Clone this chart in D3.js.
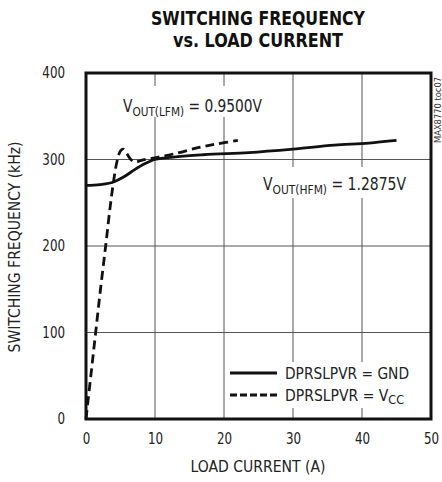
<!DOCTYPE html>
<html><head><meta charset="utf-8">
<script src="https://cdn.jsdelivr.net/npm/d3@7"></script>
<style>
body{margin:0;background:#fff;}
text{font-family:"Liberation Sans Narrow","DejaVu Sans Condensed","Roboto Condensed",Arial,sans-serif;}
</style></head>
<body><svg id="c" width="442" height="482"></svg>
<script>
const xTicks = [0,10,20,30,40,50];
const yTicks = [0,100,200,300,400];
const gndSeries = [[0,270],[2,271],[4,274],[5.5,280],[7,288],[8.5,295],[10,300],[13,303],[17,305.5],[23.6,308],[30,312],[36,316.5],[41,319],[45,322]];
const vccSeries = [[0,0],[0.7,50],[1.4,100],[2.1,150],[2.85,200],[3.5,245],[4.0,275],[4.5,298],[5.0,310],[5.4,312],[5.9,307],[6.5,300],[7.2,297],[8,299],[10,302],[13,307],[16.4,314],[19,318],[22,322]];

const svg = d3.select("#c");
const L=86, R=431, T=73, B=419;
const x = d3.scaleLinear().domain([0,50]).range([L,R]);
const y = d3.scaleLinear().domain([0,400]).range([B,T]);
const FF = '"Liberation Sans Narrow","DejaVu Sans Condensed",Arial,sans-serif';

// grid
svg.append("g").selectAll("line").data(xTicks.slice(1,-1)).join("line")
  .attr("x1",d=>x(d)).attr("x2",d=>x(d)).attr("y1",T).attr("y2",B)
  .attr("stroke","#555").attr("stroke-width",1);
svg.append("g").selectAll("line").data(yTicks.slice(1,-1)).join("line")
  .attr("y1",d=>y(d)).attr("y2",d=>y(d)).attr("x1",L).attr("x2",R)
  .attr("stroke","#555").attr("stroke-width",1);

// axes labels via d3 axes
const xAxis = svg.append("g").attr("transform",`translate(0,${B})`)
  .call(d3.axisBottom(x).tickValues(xTicks).tickSize(0).tickPadding(14));
xAxis.select(".domain").remove();
xAxis.selectAll("text").attr("font-size",15).attr("fill","#222").style("font-family",FF)
  .attr("transform","scale(1,1)");
const yAxis = svg.append("g").attr("transform",`translate(${L},0)`)
  .call(d3.axisLeft(y).tickValues(yTicks).tickSize(0).tickPadding(21));
yAxis.select(".domain").remove();
yAxis.selectAll("text").attr("font-size",15).attr("fill","#222").style("font-family",FF);
// narrow tick glyphs slightly
xAxis.selectAll(".tick text").attr("textLength",function(){return this.getComputedTextLength()*0.88;}).attr("lengthAdjust","spacingAndGlyphs");
yAxis.selectAll(".tick text").attr("textLength",function(){return this.getComputedTextLength()*0.88;}).attr("lengthAdjust","spacingAndGlyphs");

// label backgrounds
function bg(x0,y0,w,h){svg.append("rect").attr("x",x0).attr("y",y0).attr("width",w).attr("height",h).attr("fill","#fff");}
bg(120,86,146,31);
bg(260,167,152,31);
bg(228,362,195,46);

// lines
const line = d3.line().x(d=>x(d[0])).y(d=>y(d[1])).curve(d3.curveMonotoneX);
svg.append("path").datum(gndSeries).attr("d",line).attr("fill","none")
  .attr("stroke","#111").attr("stroke-width",2.8);
const line2 = d3.line().x(d=>x(d[0])).y(d=>y(d[1])).curve(d3.curveCatmullRom);
svg.append("path").datum(vccSeries).attr("d",line2).attr("fill","none")
  .attr("stroke","#111").attr("stroke-width",2.8).attr("stroke-dasharray","9,5");

// frame
svg.append("rect").attr("x",L).attr("y",T).attr("width",R-L).attr("height",B-T)
  .attr("fill","none").attr("stroke","#111").attr("stroke-width",3);

// annotations
function vlabel(px,py,sub,rest,w){
  const t=svg.append("text").attr("x",px).attr("y",py).attr("font-size",17).attr("fill","#222");
  t.append("tspan").text("V");
  t.append("tspan").attr("font-size",13).attr("dy",4).text(sub);
  t.append("tspan").attr("dy",-4).text(rest);
  t.attr("textLength",w).attr("lengthAdjust","spacingAndGlyphs");
}
vlabel(123,112,"OUT(LFM)"," = 0.9500V",139);
vlabel(263,190,"OUT(HFM)"," = 1.2875V",143);

// legend
svg.append("line").attr("x1",230).attr("x2",277).attr("y1",373).attr("y2",373).attr("stroke","#111").attr("stroke-width",2.8);
svg.append("line").attr("x1",230).attr("x2",277).attr("y1",395).attr("y2",395).attr("stroke","#111").attr("stroke-width",2.8).attr("stroke-dasharray","7,3");
svg.append("text").attr("x",285).attr("y",379).attr("font-size",15).attr("fill","#222")
  .attr("textLength",124).attr("lengthAdjust","spacingAndGlyphs").text("DPRSLPVR = GND");
const t2=svg.append("text").attr("x",285).attr("y",401).attr("font-size",15).attr("fill","#222");
t2.append("tspan").text("DPRSLPVR = V");
t2.append("tspan").attr("font-size",12).attr("dy",3).text("CC");
t2.attr("textLength",119).attr("lengthAdjust","spacingAndGlyphs");

// titles
svg.append("text").attr("x",258).attr("y",25).attr("text-anchor","middle").attr("font-size",19).attr("font-weight","bold").attr("fill","#111")
  .attr("textLength",214).attr("lengthAdjust","spacingAndGlyphs").text("SWITCHING FREQUENCY");
svg.append("text").attr("x",258).attr("y",47).attr("text-anchor","middle").attr("font-size",19).attr("font-weight","bold").attr("fill","#111")
  .attr("textLength",170).attr("lengthAdjust","spacingAndGlyphs").text("vs. LOAD CURRENT");
svg.append("text").attr("x",258).attr("y",472).attr("text-anchor","middle").attr("font-size",15).attr("fill","#222")
  .attr("textLength",135).attr("lengthAdjust","spacingAndGlyphs").text("LOAD CURRENT (A)");
svg.append("text").attr("transform","translate(20,247) rotate(-90)").attr("text-anchor","middle").attr("font-size",15).attr("fill","#222")
  .attr("textLength",211).attr("lengthAdjust","spacingAndGlyphs").text("SWITCHING FREQUENCY (kHz)");
svg.append("text").attr("transform","translate(441,143) rotate(-90)").attr("text-anchor","start").attr("font-size",8).attr("fill","#333")
  .attr("textLength",66).attr("lengthAdjust","spacingAndGlyphs").text("MAX8770 toc07");
</script></body></html>
